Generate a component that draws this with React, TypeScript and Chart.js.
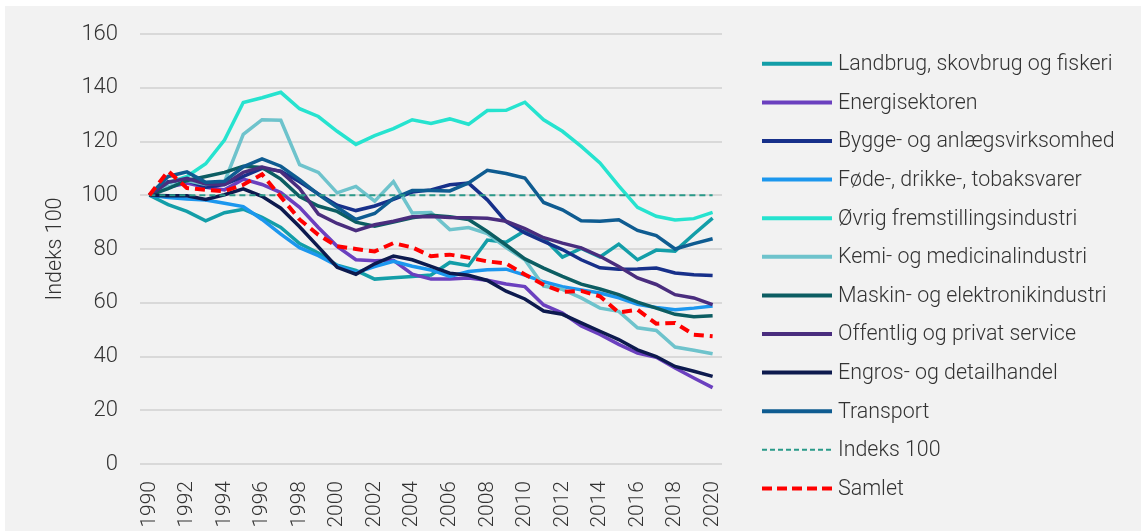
import React, { useEffect, useRef } from "react";
import { Chart, registerables } from "chart.js";

Chart.register(...registerables);

const years = ["1990","1991","1992","1993","1994","1995","1996","1997","1998","1999","2000","2001","2002","2003","2004","2005","2006","2007","2008","2009","2010","2011","2012","2013","2014","2015","2016","2017","2018","2019","2020"];

const landbrug = [100,96.5,94,90.5,93.5,94.8,91.8,88,82,78.5,74,72,68.8,69.3,69.8,70.3,75,73.8,83.3,82.5,86.8,84,77,80.2,77,81.8,76,79.6,79.2,85.5,91.5];
const energi = [100,103,104.5,103,102,106,104,101,95.5,88,81,76,75.6,75.8,70.6,68.8,68.8,69.2,68.4,67,66,59.2,56.2,51.4,48.2,44.5,41.3,39.7,35.7,32,28.4];
const bygge = [100,105,105.5,103,104,107,110,109,105,100.5,96.3,94.3,96,98.5,101.2,102,103.9,104.5,98.3,90.2,86,82.8,79.8,76,73,72.5,72.6,72.9,71.1,70.4,70.1];
const foede = [100,99.2,98.6,98.2,97,95.8,91,85.5,80.5,77.5,73.8,71.2,73.5,75.4,73.6,72.2,69.8,71.6,72.3,72.5,70.3,67.8,66,64.8,63.6,61.8,59.4,58.2,57.4,58,58.8];
const oevrig = [100,104.6,107,111.7,120.5,134.5,136.3,138.3,132.2,129.3,123.8,118.9,122.2,124.8,128.1,126.7,128.4,126.4,131.5,131.6,134.6,128.1,123.8,118.2,112,103.5,95.5,92.2,90.8,91.3,93.6];
const kemi = [100,103,105.5,104,105,122.7,128.1,127.9,111.4,108.5,100.9,103.3,97.8,105.1,93.4,93.6,87.2,88,85.7,80.5,76,66.2,65,61.8,58,56.8,50.7,49.7,43.5,42.3,41];
const maskin = [100,102.5,105.5,107,108.5,110.8,110.3,106,99.5,96,94,90,88.5,90,91.6,92.6,92,91,86.5,81.5,76.3,72.9,69.8,66.9,65.1,63,60.2,58,55.7,54.8,55.2];
const offentlig = [100,104.8,106.3,104.2,104,108.5,110.5,108.8,102.5,93,89.5,86.8,89,90.3,92,92.1,91.7,91.6,91.4,90.3,87.6,84.2,82.2,80.4,77.3,73.5,69.2,66.8,63,61.8,59.3];
const engros = [100,99.8,99.8,98.4,100.2,102.4,99.6,95.2,88.3,80.8,73.2,70.6,74.5,77.4,76,73.5,71,70.2,68.3,64.3,61.4,56.9,55.7,52.5,49.4,46.3,42.5,40,36.3,34.5,32.6];
const transport = [100,107,108.7,104.8,105.2,110.6,113.5,110.8,105.8,100.3,95.5,91,93.2,98.8,101.8,101.8,101.6,104.6,109.3,108.1,106.4,97.3,94.6,90.5,90.3,90.9,86.9,85,80,82,83.8];
const indeks = [100,100,100,100,100,100,100,100,100,100,100,100,100,100,100,100,100,100,100,100,100,100,100,100,100,100,100,100,100,100,100];
const samlet = [100,109,102.7,102,101.5,103.9,107.8,99.4,91,85.3,81,80,79.1,82.2,80.6,77.3,77.9,76.8,75.4,74.6,70.5,66.7,64,64.4,62.4,56.4,57.4,52.2,52.5,48.1,47.5];

const seriesNames = [
  "Landbrug, skovbrug og fiskeri",
  "Energisektoren",
  "Bygge- og anlægsvirksomhed",
  "Føde-, drikke-, tobaksvarer",
  "Øvrig fremstillingsindustri",
  "Kemi- og medicinalindustri",
  "Maskin- og elektronikindustri",
  "Offentlig og privat service",
  "Engros- og detailhandel",
  "Transport",
  "Indeks 100",
  "Samlet",
];
const seriesData = [landbrug, energi, bygge, foede, oevrig, kemi, maskin, offentlig, engros, transport, indeks, samlet];
const seriesColors = ["#139ea8","#6b40bf","#17308a","#1c97ee","#26e3cf","#6ec3cc","#0c5d62","#4a2d7e","#0d1a4e","#0f5c91","#2a9a89","#ff0000"];
const yTicks = [0, 20, 40, 60, 80, 100, 120, 140, 160];

const FONT = "Roboto";
const TEXT = "#333333";

const legendPlugin = {
  id: "sideLegend",
  afterDraw(chart: any) {
    const ctx = chart.ctx;
    const x0 = 757, x1 = 827, tx = 833, y0 = 57.8, dy = 38.6;
    chart.data.datasets.forEach((ds: any, i: number) => {
      const y = y0 + i * dy;
      ctx.save();
      ctx.strokeStyle = ds.borderColor;
      ctx.lineWidth = ds.legendWidth;
      ctx.setLineDash(ds.legendDash || []);
      ctx.lineCap = "butt";
      ctx.beginPath();
      ctx.moveTo(x0, y);
      ctx.lineTo(x1, y);
      ctx.stroke();
      ctx.setLineDash([]);
      ctx.fillStyle = TEXT;
      ctx.font = `300 21.4px ${FONT}`;
      ctx.textBaseline = "middle";
      ctx.textAlign = "left";
      ctx.fillText(ds.label, tx, y + 1);
      ctx.restore();
    });
  },
};

export default function App() {
  const ref = useRef<HTMLCanvasElement | null>(null);
  useEffect(() => {
    if (!ref.current) return;
    const n = seriesNames.length;
    const datasets = seriesNames.map((name, i) => {
      const isIdx = name === "Indeks 100";
      const isTot = name === "Samlet";
      return {
        label: name,
        data: seriesData[i],
        borderColor: seriesColors[i],
        backgroundColor: seriesColors[i],
        borderWidth: isIdx ? 2 : isTot ? 4 : 3.5,
        borderDash: isIdx ? [6, 4] : isTot ? [10, 6] : [],
        legendDash: isIdx ? [5, 3] : isTot ? [10, 5] : [],
        legendWidth: isIdx ? 2 : 4,
        pointRadius: 0,
        tension: 0,
        fill: false,
        order: n - 1 - i,
      };
    });
    const chart = new Chart(ref.current, {
      type: "line",
      data: { labels: years, datasets },
      plugins: [legendPlugin],
      options: {
        animation: false,
        responsive: false,
        devicePixelRatio: 1,
        layout: { padding: { left: 34, right: 419, top: 28, bottom: 0 } },
        plugins: { legend: { display: false }, tooltip: { enabled: false } },
        scales: {
          x: {
            offset: true,
            grid: { display: false, drawTicks: false },
            border: { display: false },
            afterFit: (s: any) => { s.height = 67; },
            ticks: {
              autoSkip: false,
              minRotation: 90,
              maxRotation: 90,
              padding: 17,
              color: TEXT,
              font: { family: FONT, size: 21, weight: "300" as any },
              callback: (_v: any, i: number) => (i % 2 === 0 ? years[i] : ""),
            },
          },
          y: {
            min: 0,
            max: 160,
            afterFit: (s: any) => { s.width = 101; },
            afterBuildTicks: (s: any) => { s.ticks = yTicks.map((v) => ({ value: v })); },
            grid: { color: "#d9d9d9", lineWidth: 2, drawTicks: true, tickLength: 19, tickColor: "rgba(0,0,0,0)" },
            border: { display: false },
            ticks: {
              padding: 3,
              color: TEXT,
              font: { family: FONT, size: 22, weight: "300" as any },
            },
            title: {
              display: true,
              text: "Indeks 100",
              color: TEXT,
              font: { family: FONT, size: 21.5, weight: "300" as any },
            },
          },
        },
      },
    });
    return () => chart.destroy();
  }, []);
  return (
    <div style={{ position: "fixed", left: 0, top: 0, width: 1141, height: 531, background: "#ffffff", overflow: "hidden" }}>
      <canvas
        ref={ref}
        width={1136}
        height={525}
        style={{ position: "absolute", left: 5, top: 6, width: 1136, height: 525, background: "#f2f2f2" }}
      />
    </div>
  );
}
